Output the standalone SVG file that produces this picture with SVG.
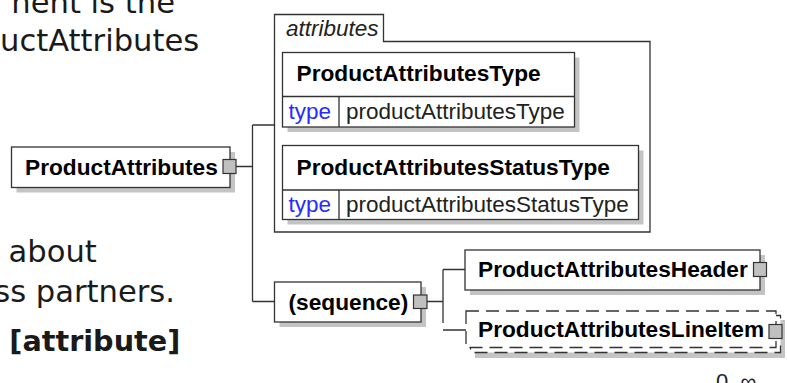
<svg xmlns="http://www.w3.org/2000/svg" width="787" height="383" viewBox="0 0 787 383">
<style>
.box{fill:#fff;stroke:#333;stroke-width:1.3}
.shadow{fill:#c4c4c4}
.dash{fill:#fff;stroke:#333;stroke-width:1.3;stroke-dasharray:13 7}
.sq{fill:#c0c0c0;stroke:#333;stroke-width:1.2}
.conn{fill:none;stroke:#333;stroke-width:1.3}
.sep{fill:none;stroke:#333;stroke-width:1.3}
.lbl{font-family:"Liberation Sans",Arial,sans-serif;font-weight:bold;font-size:22.7px;fill:#000}
.reg{font-family:"Liberation Sans",Arial,sans-serif;font-size:22.5px;fill:#222}
.kw{font-family:"Liberation Sans",Arial,sans-serif;font-size:22.5px;fill:#2a2aff}
.it{font-family:"Liberation Sans",Arial,sans-serif;font-style:italic;font-size:22.5px;fill:#222}
.body{font-family:"DejaVu Sans",Verdana,sans-serif;font-size:30.6px;fill:#1a1a1a}
.bodyb{font-family:"DejaVu Sans",Verdana,sans-serif;font-weight:bold;font-size:29px;fill:#1a1a1a}
.card{font-family:"Liberation Sans",Arial,sans-serif;font-size:22px;fill:#222}
</style>
<g id="page-text">
<text class="body" x="175" y="12.7" text-anchor="end">nent is the</text>
<text class="body" x="0" y="50.7">uctAttributes</text>
<text class="body" x="8.5" y="261.7">about</text>
<text class="body" x="175" y="301.7" text-anchor="end">ss partners.</text>
<text class="bodyb" x="9.3" y="351" textLength="171" lengthAdjust="spacingAndGlyphs">[attribute]</text>
</g>
<g id="connectors">
<path class="conn" d="M236,166.5 H252.5 M252.5,125 V301.5 M252.5,125 H274.5 M252.5,301.5 H274.5"/>
<path class="conn" d="M427,301.5 H443 M443,269.5 V323 M443,269.5 H465 M443,330 H466"/>
</g>
<g id="node-ProductAttributes">
<rect class="shadow" x="16.5" y="152" width="218.5" height="40.5"/>
<rect class="box" x="11.5" y="147" width="218.5" height="40.5"/>
<text class="lbl" x="25" y="175">ProductAttributes</text>
<rect class="sq" x="223" y="159.5" width="13" height="14"/>
</g>
<g id="group-attributes">
<path class="box" d="M274.5,14.5 H383.5 V41.5 H650 V232 H274.5 Z"/>
<text class="it" x="286" y="36">attributes</text>
</g>
<g id="node-ProductAttributesType">
<rect class="shadow" x="287.5" y="57.5" width="292" height="74.5"/>
<rect class="box" x="282.5" y="52.5" width="292" height="74.5"/>
<path class="sep" d="M282.5,96.5 H574.5 M339,96.5 V127"/>
<text class="lbl" x="296.5" y="81">ProductAttributesType</text>
<text class="kw" x="288.5" y="118.5">type</text>
<text class="reg" x="346" y="118.5">productAttributesType</text>
</g>
<g id="node-ProductAttributesStatusType">
<rect class="shadow" x="287.5" y="150.5" width="356" height="74"/>
<rect class="box" x="282.5" y="145.5" width="356" height="74"/>
<path class="sep" d="M282.5,190 H638.5 M339,190 V219.5"/>
<text class="lbl" x="296.5" y="174.5">ProductAttributesStatusType</text>
<text class="kw" x="288.5" y="211.5">type</text>
<text class="reg" x="346" y="211.5">productAttributesStatusType</text>
</g>
<g id="node-sequence">
<rect class="shadow" x="279.5" y="287" width="146.5" height="40"/>
<rect class="box" x="274.5" y="282" width="146.5" height="40"/>
<text class="lbl" x="288.5" y="310">(sequence)</text>
<rect class="sq" x="413.5" y="295" width="13.5" height="13.5"/>
</g>
<g id="node-ProductAttributesHeader">
<rect class="shadow" x="470" y="255" width="295" height="40"/>
<rect class="box" x="465" y="250" width="295" height="40"/>
<text class="lbl" x="478" y="277">ProductAttributesHeader</text>
<rect class="sq" x="753.5" y="262.5" width="13" height="14"/>
</g>
<g id="node-ProductAttributesLineItem">
<rect class="shadow" x="475" y="320" width="310" height="38"/>
<rect class="dash" x="470.5" y="315.5" width="310" height="37"/>
<rect class="dash" x="466" y="311" width="310" height="36.5"/>
<text class="lbl" x="478" y="337">ProductAttributesLineItem</text>
<rect class="sq" x="769" y="324.5" width="13" height="14"/>
<text class="card" x="716" y="389">0..∞</text>
</g>
</svg>
